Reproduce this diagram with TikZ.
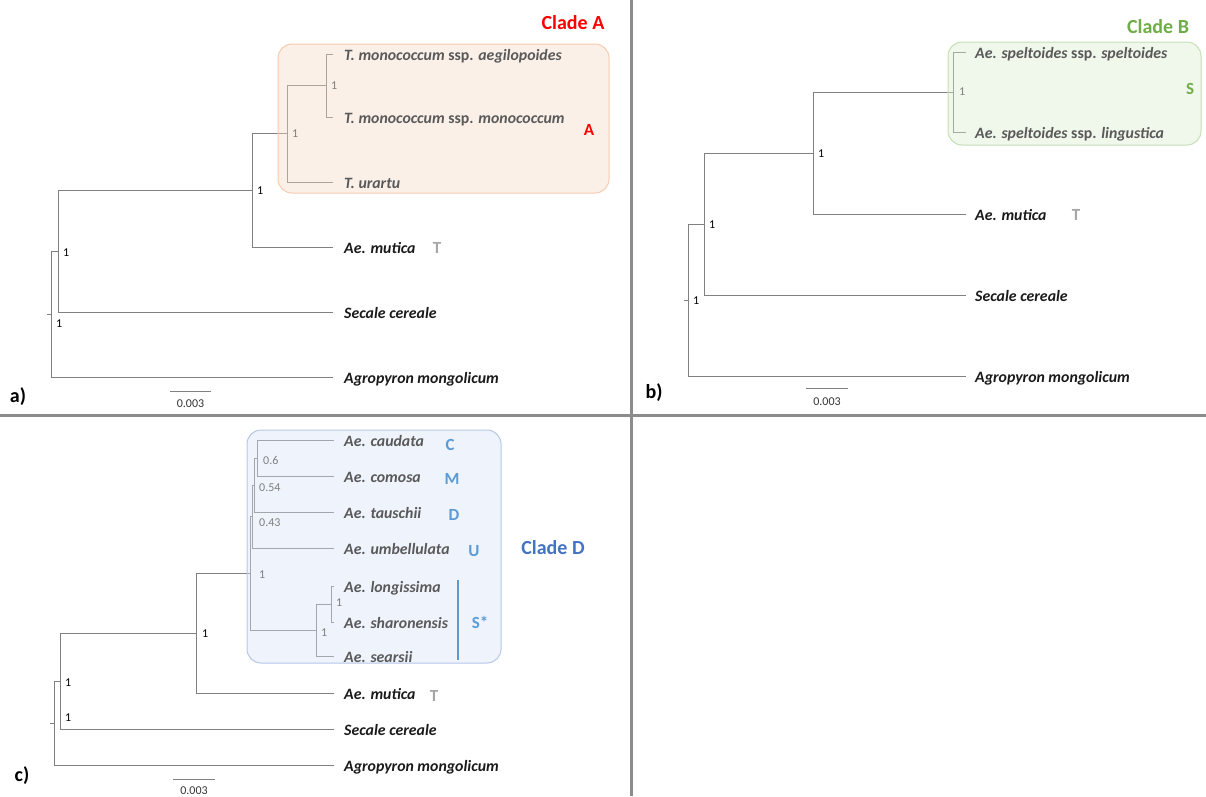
\documentclass[tikz,border=0pt]{standalone}
\usepackage{fontspec}
\setmainfont{Carlito}
\definecolor{brc}{HTML}{808080}
\definecolor{leafc}{HTML}{1A1A1A}
\definecolor{ileafc}{HTML}{595959}
\definecolor{isupc}{HTML}{7F7F7F}
\definecolor{sepc}{HTML}{8C8C8C}
\definecolor{cladeA}{HTML}{FF0000}
\definecolor{cladeB}{HTML}{70AD47}
\definecolor{cladeD}{HTML}{4472C4}
\definecolor{genomeD}{HTML}{5B9BD5}
\definecolor{tgrey}{HTML}{A6A6A6}
\definecolor{boxAf}{RGB}{245,217,198}
\definecolor{boxAd}{HTML}{F8CBAD}
\definecolor{boxBf}{RGB}{217,235,205}
\definecolor{boxBd}{HTML}{C5E0B4}
\definecolor{boxDf}{RGB}{212,225,247}
\definecolor{boxDd}{HTML}{B4C7E7}
\newcommand\leaffont{\fontsize{15.8}{17}\selectfont\bfseries\itshape}
\newcommand\supfont{\fontsize{12}{14}\selectfont}
\newcommand\upr[1]{\textup{#1}}
\begin{document}
\begin{tikzpicture}[x=1pt,y=-1pt,
  br/.style={draw=brc, line width=0.9pt},
  leaf/.style={anchor=west, inner sep=0pt, text height=14pt, text depth=2pt, text=leafc, font=\leaffont},
  ileaf/.style={leaf, text=ileafc},
  supp/.style={anchor=west, inner sep=0pt, font=\supfont, text=black},
  isupp/.style={supp, text=isupc},
  cladebox/.style={rounded corners=14pt, line width=1pt, fill opacity=0.4},
  cladetitle/.style={font=\fontsize{20}{22}\selectfont\bfseries, inner sep=0pt},
  genome/.style={font=\fontsize{17}{19}\selectfont\bfseries, inner sep=0pt},
  panel/.style={font=\fontsize{20}{22}\selectfont\bfseries, inner sep=0pt},
  scalebar/.style={draw=brc, line width=1pt},
  scaletxt/.style={font=\supfont, text=black!80, inner sep=0pt},
  sep/.style={draw=sepc, line width=3pt}]
\useasboundingbox (0,0) rectangle (1206,796);

% ================= separators
\coordinate (s-top) at (631,0);
\coordinate (s-bot) at (631,796);
\coordinate (s-left) at (0,415);
\coordinate (s-right) at (1206,415);
\draw[sep] (s-top) -- (s-bot);
\draw[sep] (s-left) -- (s-right);

% ================= panel a
\coordinate (a-t1) at (333,54);
\coordinate (a-t2) at (333,117);
\coordinate (a-t3) at (333,182);
\coordinate (a-t4) at (333,247);
\coordinate (a-t5) at (333,312);
\coordinate (a-t6) at (333,377);
\coordinate (a-n1) at (326,85.5);
\coordinate (a-n2) at (287,133.5);
\coordinate (a-n3) at (252,190);
\coordinate (a-n4) at (58,251);
\coordinate (a-n5) at (51,314);
\coordinate (a-r) at (47,314);
\draw[br] (a-n1) |- (a-t1);
\draw[br] (a-n1) |- (a-t2);
\draw[br] (a-n2) |- (a-n1);
\draw[br] (a-n2) |- (a-t3);
\draw[br] (a-n3) |- (a-n2);
\draw[br] (a-n3) |- (a-t4);
\draw[br] (a-n4) |- (a-n3);
\draw[br] (a-n4) |- (a-t5);
\draw[br] (a-n5) |- (a-n4);
\draw[br] (a-n5) |- (a-t6);
\draw[br] (a-r) -- (a-n5);
\path[cladebox, fill=boxAf, draw=boxAd, draw opacity=1] (278,44) rectangle (609,193);
\node[cladetitle, text=cladeA] (a-clade) at (573,23) {Clade A};
\node[ileaf] (a-l1) at (344,54) {T. monococcum \upr{ssp.} aegilopoides};
\node[ileaf] (a-l2) at (344,117) {T. monococcum \upr{ssp.} monococcum};
\node[ileaf] (a-l3) at (344,182) {T. urartu};
\node[leaf] (a-l4) at (344,247) {Ae. mutica};
\node[leaf] (a-l5) at (344,312) {Secale cereale};
\node[leaf] (a-l6) at (344,377) {Agropyron mongolicum};
\node[genome, text=cladeA] (a-gA) at (589,130) {A};
\node[genome, text=tgrey] (a-gT) at (437,248) {T};
\node[isupp] (a-s1) at (331,86) {1};
\node[isupp] (a-s2) at (292,134) {1};
\node[supp] (a-s3) at (257,191) {1};
\node[supp] (a-s4) at (63,253) {1};
\node[supp] (a-s5) at (56,324) {1};
\coordinate (a-sb1) at (170,391);
\coordinate (a-sb2) at (211,391);
\draw[scalebar] (a-sb1) -- (a-sb2);
\node[scaletxt] (a-sbt) at (190.5,404) {0.003};
\node[panel] (a-lab) at (18,397) {a)};

% ================= panel b
\coordinate (b-t1) at (966,52);
\coordinate (b-t2) at (966,132);
\coordinate (b-t3) at (966,214);
\coordinate (b-t4) at (966,295);
\coordinate (b-t5) at (966,376);
\coordinate (b-n1) at (953,92);
\coordinate (b-n2) at (813,153);
\coordinate (b-n3) at (704,224);
\coordinate (b-n4) at (688,300);
\coordinate (b-r) at (684,300);
\draw[br] (b-n1) |- (b-t1);
\draw[br] (b-n1) |- (b-t2);
\draw[br] (b-n2) |- (b-n1);
\draw[br] (b-n2) |- (b-t3);
\draw[br] (b-n3) |- (b-n2);
\draw[br] (b-n3) |- (b-t4);
\draw[br] (b-n4) |- (b-n3);
\draw[br] (b-n4) |- (b-t5);
\draw[br] (b-r) -- (b-n4);
\path[cladebox, fill=boxBf, draw=boxBd, draw opacity=1] (948,42) rectangle (1201,145);
\node[cladetitle, text=cladeB] (b-clade) at (1158,27) {Clade B};
\node[ileaf] (b-l1) at (975,52) {Ae. speltoides \upr{ssp.} speltoides};
\node[ileaf] (b-l2) at (975,132) {Ae. speltoides \upr{ssp.} lingustica};
\node[leaf] (b-l3) at (975,214) {Ae. mutica};
\node[leaf] (b-l4) at (975,295) {Secale cereale};
\node[leaf] (b-l5) at (975,376) {Agropyron mongolicum};
\node[genome, text=cladeB] (b-gS) at (1190,89) {S};
\node[genome, text=tgrey] (b-gT) at (1076,215) {T};
\node[isupp] (b-s1) at (959,92) {1};
\node[supp] (b-s2) at (818,154) {1};
\node[supp] (b-s3) at (709,225) {1};
\node[supp] (b-s4) at (693,301) {1};
\coordinate (b-sb1) at (806,388);
\coordinate (b-sb2) at (848,388);
\draw[scalebar] (b-sb1) -- (b-sb2);
\node[scaletxt] (b-sbt) at (827,402) {0.003};
\node[panel] (b-lab) at (654,393) {b)};

% ================= panel c
\coordinate (c-t1) at (334,440);
\coordinate (c-t2) at (334,476);
\coordinate (c-t3) at (334,512);
\coordinate (c-t4) at (334,548);
\coordinate (c-t5) at (334,586);
\coordinate (c-t6) at (334,622);
\coordinate (c-t7) at (334,656);
\coordinate (c-t8) at (334,693);
\coordinate (c-t9) at (334,729);
\coordinate (c-t10) at (334,765);
\coordinate (c-n1) at (257,458);
\coordinate (c-n2) at (254,485);
\coordinate (c-n3) at (252,516.5);
\coordinate (c-n4) at (331,604);
\coordinate (c-n5) at (316,630);
\coordinate (c-n6) at (250,573);
\coordinate (c-n7) at (196,633);
\coordinate (c-n8) at (60,681);
\coordinate (c-n9) at (54,723);
\coordinate (c-r) at (50,723);
\draw[br] (c-n1) |- (c-t1);
\draw[br] (c-n1) |- (c-t2);
\draw[br] (c-n2) |- (c-n1);
\draw[br] (c-n2) |- (c-t3);
\draw[br] (c-n3) |- (c-n2);
\draw[br] (c-n3) |- (c-t4);
\draw[br] (c-n4) |- (c-t5);
\draw[br] (c-n4) |- (c-t6);
\draw[br] (c-n5) |- (c-n4);
\draw[br] (c-n5) |- (c-t7);
\draw[br] (c-n6) |- (c-n3);
\draw[br] (c-n6) |- (c-n5);
\draw[br] (c-n7) |- (c-n6);
\draw[br] (c-n7) |- (c-t8);
\draw[br] (c-n8) |- (c-n7);
\draw[br] (c-n8) |- (c-t9);
\draw[br] (c-n9) |- (c-n8);
\draw[br] (c-n9) |- (c-t10);
\draw[br] (c-r) -- (c-n9);
\path[cladebox, fill=boxDf, draw=boxDd, draw opacity=1] (247,430) rectangle (501,663);
\node[cladetitle, text=cladeD] (c-clade) at (553,548) {Clade D};
\node[ileaf] (c-l1) at (344,440) {Ae. caudata};
\node[ileaf] (c-l2) at (344,476) {Ae. comosa};
\node[ileaf] (c-l3) at (344,512) {Ae. tauschii};
\node[ileaf] (c-l4) at (344,548) {Ae. umbellulata};
\node[ileaf] (c-l5) at (344,586) {Ae. longissima};
\node[ileaf] (c-l6) at (344,622) {Ae. sharonensis};
\node[ileaf] (c-l7) at (344,656) {Ae. searsii};
\node[leaf] (c-l8) at (344,693) {Ae. mutica};
\node[leaf] (c-l9) at (344,729) {Secale cereale};
\node[leaf] (c-l10) at (344,765) {Agropyron mongolicum};
\node[genome, text=genomeD] (c-gC) at (450,445) {C};
\node[genome, text=genomeD] (c-gM) at (452,479) {M};
\node[genome, text=genomeD] (c-gD) at (454,515) {D};
\node[genome, text=genomeD] (c-gU) at (474,551) {U};
\node[genome, text=genomeD] (c-gS) at (480,622) {S*};
\coordinate (c-bar1) at (458,580);
\coordinate (c-bar2) at (458,660);
\draw[draw=genomeD, line width=1.5pt] (c-bar1) -- (c-bar2);
\node[genome, text=tgrey] (c-gT) at (434,696) {T};
\node[isupp] (c-s1) at (263,460) {0.6};
\node[isupp] (c-s2) at (259,488) {0.54};
\node[isupp] (c-s3) at (259,523) {0.43};
\node[isupp] (c-s4) at (336,603) {1};
\node[isupp] (c-s5) at (321,633) {1};
\node[isupp] (c-s6) at (259,575) {1};
\node[supp] (c-s7) at (202,634) {1};
\node[supp] (c-s8) at (65,683) {1};
\node[supp] (c-s9) at (65,718) {1};
\coordinate (c-sb1) at (173,779);
\coordinate (c-sb2) at (215,779);
\draw[scalebar] (c-sb1) -- (c-sb2);
\node[scaletxt] (c-sbt) at (194,791) {0.003};
\node[panel] (c-lab) at (22,776) {c)};
\end{tikzpicture}
\end{document}
